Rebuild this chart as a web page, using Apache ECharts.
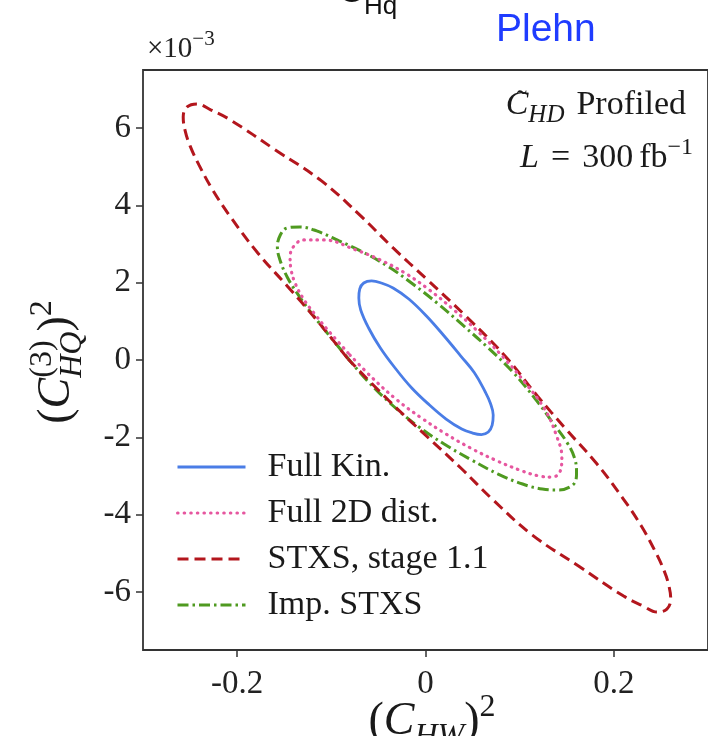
<!DOCTYPE html>
<html><head><meta charset="utf-8">
<script src="https://cdn.jsdelivr.net/npm/echarts@6/dist/echarts.min.js"></script>
<style>html,body{margin:0;padding:0;background:#fff;overflow:hidden}#c{width:708px;height:736px}</style>
</head><body><div id="c"></div>
<script>
// ---------------- data (x = (C_HW)^2, y = (C_HQ^(3))^2 in units of 1e-3) ----------------
const seriesNames = ['Full Kin.', 'Full 2D dist.', 'STXS, stage 1.1', 'Imp. STXS'];
const xTicks = [-0.2, 0, 0.2];
const yTicks = [-6, -4, -2, 0, 2, 4, 6];

const fullKin = [
  [-0.0323, -0.207], [-0.0146, -0.724], [0.0042, -1.164], [0.0219, -1.527], [0.0385, -1.785],
  [0.0500, -1.889], [0.0594, -1.928], [0.0667, -1.863], [0.0708, -1.682], [0.0719, -1.423],
  [0.0688, -1.113], [0.0635, -0.828], [0.0521, -0.336], [0.0375, 0.103], [0.0198, 0.621],
  [0.0010, 1.138], [-0.0177, 1.578], [-0.0344, 1.863], [-0.0469, 1.992], [-0.0573, 2.044],
  [-0.0656, 1.992], [-0.0698, 1.837], [-0.0708, 1.604], [-0.0688, 1.294], [-0.0604, 0.828],
  [-0.0479, 0.310], [-0.0323, -0.207]
];
const full2D = [
  [-0.0802, 0.129], [-0.0563, -0.466], [-0.0302, -1.035], [-0.0042, -1.501], [0.0219, -1.915],
  [0.0479, -2.277], [0.0740, -2.587], [0.1000, -2.846], [0.1208, -3.001], [0.1344, -3.027],
  [0.1427, -2.898], [0.1448, -2.510], [0.1396, -1.992], [0.1271, -1.294], [0.1052, -0.569],
  [0.0823, 0.078], [0.0563, 0.724], [0.0302, 1.294], [0.0042, 1.811], [-0.0219, 2.251],
  [-0.0479, 2.587], [-0.0740, 2.846], [-0.1083, 3.105], [-0.1292, 3.105], [-0.1396, 2.950],
  [-0.1438, 2.665], [-0.1427, 2.329], [-0.1385, 1.992], [-0.1302, 1.604], [-0.1177, 1.190],
  [-0.1010, 0.699], [-0.0802, 0.129]
];
const stxs11 = [
  [-0.0823, 0.026], [-0.0396, -1.035], [0.0021, -1.992], [0.0375, -2.794], [0.0719, -3.622],
  [0.1135, -4.528], [0.1625, -5.330], [0.2104, -6.106], [0.2313, -6.365], [0.2458, -6.520],
  [0.2563, -6.442], [0.2604, -6.184], [0.2583, -5.821], [0.2531, -5.433], [0.2438, -4.942],
  [0.2292, -4.295], [0.2094, -3.570], [0.1813, -2.665], [0.1500, -1.811], [0.1188, -0.931],
  [0.0854, 0.078], [0.0427, 1.138], [0.0010, 2.096], [-0.0344, 2.898], [-0.0688, 3.726],
  [-0.1104, 4.631], [-0.1594, 5.433], [-0.2073, 6.210], [-0.2281, 6.468], [-0.2427, 6.623],
  [-0.2531, 6.546], [-0.2573, 6.287], [-0.2552, 5.925], [-0.2500, 5.537], [-0.2406, 5.045],
  [-0.2260, 4.398], [-0.2063, 3.674], [-0.1781, 2.768], [-0.1469, 1.915], [-0.1156, 1.035],
  [-0.0823, 0.026]
];
const impStxs = [
  [-0.0844, 0.103], [-0.0615, -0.543], [-0.0354, -1.164], [-0.0083, -1.708], [0.0198, -2.173],
  [0.0490, -2.587], [0.0771, -2.950], [0.1031, -3.208], [0.1240, -3.338], [0.1417, -3.364],
  [0.1531, -3.286], [0.1594, -3.131], [0.1604, -2.924], [0.1583, -2.536], [0.1500, -2.122],
  [0.1354, -1.630], [0.1167, -1.009], [0.0927, -0.310], [0.0667, 0.310], [0.0406, 0.880],
  [0.0135, 1.449], [-0.0135, 1.966], [-0.0406, 2.432], [-0.0667, 2.794], [-0.0917, 3.079],
  [-0.1156, 3.338], [-0.1333, 3.441], [-0.1469, 3.415], [-0.1542, 3.234], [-0.1573, 2.924],
  [-0.1542, 2.561], [-0.1469, 2.147], [-0.1365, 1.734], [-0.1229, 1.268], [-0.1052, 0.724],
  [-0.0844, 0.103]
];

// ---------------- styles ----------------
const colors = ['#4a7de6', '#e6569f', '#b3161d', '#4f9a20'];
const dashes = ['solid', [0.6, 6], [11, 6], [11, 4, 2.5, 4]];
const caps = ['butt', 'round', 'butt', 'butt'];
const widths = [2.8, 3.2, 3, 3];
const SERIF = '"Liberation Serif", "Times New Roman", serif';
const SANS = '"Liberation Sans", Arial, sans-serif';

// ---------------- text helpers (math-like labels) ----------------
const mctx = document.createElement('canvas').getContext('2d');
function fontOf(p) { return (p.it ? 'italic ' : '') + (p.b ? 'bold ' : '') + p.s + 'px ' + (p.ff || SERIF); }
function tw(t, f) { mctx.font = f; return mctx.measureText(t).width; }
function mathRow(parts, x, base, align, fill) {
  const ws = parts.map(p => (p.stack ? Math.max(...p.stack.map(q => (q.acc ? 0 : tw(q.t, fontOf(q))))) : tw(p.t, fontOf(p))) + (p.gap || 0));
  const total = ws.reduce((a, b) => a + b, 0);
  let cx = align === 'center' ? x - total / 2 : align === 'right' ? x - total : x;
  const out = [];
  parts.forEach((p, i) => {
    (p.stack || [p]).forEach(q => {
      out.push({
        type: 'text', silent: true,
        x: cx + (q.dx || 0), y: base + (q.dy || 0) - 0.3375 * q.s,
        style: { text: q.t, font: fontOf(q), fill: fill || '#1a1a1a', textAlign: 'left', textVerticalAlign: 'middle', align: 'left', verticalAlign: 'middle' }
      });
    });
    cx += ws[i];
  });
  return out;
}

const graphics = [];
// top (cropped) title pieces
graphics.push(...mathRow([{ t: 'C', s: 36, b: true, ff: SANS }, { t: 'Hq', s: 26, ff: SANS, dy: 12 }], 338, 4, 'left', '#111'));
graphics.push(...mathRow([{ t: 'Plehn', s: 39, ff: SANS }], 496, 43, 'left', '#1f3cff'));
// offset text
graphics.push(...mathRow([{ t: '×10', s: 29 }, { t: '−3', s: 21, dy: -12 }], 147, 59, 'left', '#222'));
// annotation
graphics.push(...mathRow([
  { stack: [{ t: 'C', s: 34, it: true }, { t: '˜', s: 30, dx: 11, dy: -5, acc: true }] },
  { t: 'HD', s: 25, it: true, dy: 7, gap: 12 },
  { t: 'Profiled', s: 34 }
], 686, 117, 'right'));
graphics.push(...mathRow([
  { t: 'L', s: 34, it: true, gap: 12 }, { t: '=', s: 34, gap: 12 }, { t: '300', s: 34, gap: 6 },
  { t: 'fb', s: 34 }, { t: '−1', s: 24, dy: -14 }
], 693, 170, 'right'));
// x axis name
graphics.push(...mathRow([
  { t: '(', s: 46 }, { t: 'C', s: 46, it: true }, { t: 'HW', s: 32, it: true, dy: 10 },
  { t: ')', s: 46 }, { t: '2', s: 32, dy: -19 }
], 432, 737, 'center'));
// y axis name (rotated)
graphics.push({
  type: 'group', x: 57, y: 362, rotation: Math.PI / 2,
  children: mathRow([
    { t: '(', s: 46 }, { t: 'C', s: 46, it: true },
    { stack: [{ t: '(3)', s: 32, dy: -19 }, { t: 'HQ', s: 32, it: true, dy: 11 }] },
    { t: ')', s: 46 }, { t: '2', s: 32, dy: -19 }
  ], 0, 15, 'center')
});

// ---------------- chart ----------------
const chart = echarts.init(document.getElementById('c'), null, { renderer: 'canvas' });
const dataSets = [fullKin, full2D, stxs11, impStxs];
const tickStyle = { color: '#333', width: 1.5 };
chart.setOption({
  animation: false,
  backgroundColor: '#fff',
  grid: { left: 143, top: 70, right: -11, bottom: 86, show: true, borderColor: '#333', borderWidth: 1.8, backgroundColor: 'transparent' },
  xAxis: {
    type: 'value', min: -0.3, max: 0.3,
    splitLine: { show: false },
    axisLine: { show: false, onZero: false },
    axisTick: { show: true, length: 7, customValues: xTicks, lineStyle: tickStyle },
    axisLabel: { customValues: xTicks, margin: 18, formatter: v => String(v), fontFamily: SERIF, fontSize: 33, color: '#222' }
  },
  yAxis: {
    type: 'value', min: -7.5, max: 7.5,
    splitLine: { show: false },
    axisLine: { show: false, onZero: false },
    axisTick: { show: true, length: 7, customValues: yTicks, lineStyle: tickStyle },
    axisLabel: { customValues: yTicks, margin: 12, formatter: v => String(v), fontFamily: SERIF, fontSize: 33, color: '#222' }
  },
  legend: {
    orient: 'vertical', left: 171, top: 445,
    itemWidth: 68, itemHeight: 14, itemGap: 12,
    data: seriesNames,
    itemStyle: { opacity: 0 },
    lineStyle: { width: 3 },
    formatter: n => '{g|}' + n,
    textStyle: { fontFamily: SERIF, fontSize: 34, color: '#1a1a1a', lineHeight: 34, rich: { g: { width: 17 } } }
  },
  series: dataSets.map((d, i) => ({
    name: seriesNames[i], type: 'line', data: d, smooth: 0.4,
    symbol: 'none', showSymbol: false, clip: true,
    lineStyle: { color: colors[i], width: widths[i], type: dashes[i], cap: caps[i] },
    itemStyle: { color: colors[i] },
    z: 5 - i
  })),
  graphic: { elements: graphics }
});
</script></body></html>
